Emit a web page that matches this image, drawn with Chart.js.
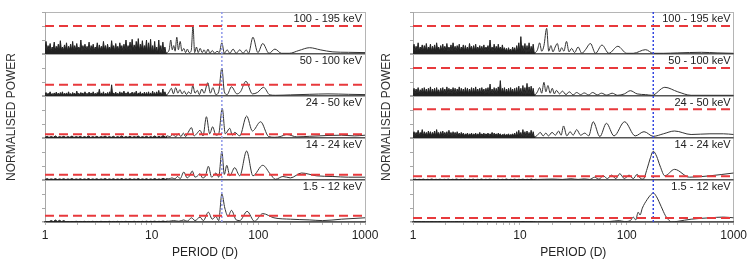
<!DOCTYPE html>
<html>
<head>
<meta charset="utf-8">
<script src="https://cdn.jsdelivr.net/npm/chart.js@4"></script>
<style>
    body { margin: 0; background: #fff; }
    #wrap { position: relative; width: 750px; height: 264px; }
    #leftBox { position: absolute; left: 0; top: 0; width: 392px; height: 264px; }
    #rightBox { position: absolute; left: 375px; top: 0; width: 375px; height: 264px; }
</style>
</head>
<body>
<div id="wrap">
    <div id="leftBox"><canvas id="leftChart"></canvas></div>
    <div id="rightBox"><canvas id="rightChart"></canvas></div>
</div>
<script>
// energy bands, top panel first
const bandLabels = ['100 - 195 keV', '50 - 100 keV', '24 - 50 keV', '14 - 24 keV', '1.5 - 12 keV'];

// period grids (days) for the dense short-period part
const densePeriods = [1.00, 1.022, 1.045, 1.068, 1.092, 1.117, 1.142, 1.167, 1.193, 1.22,
    1.247, 1.275, 1.304, 1.333, 1.363, 1.393, 1.424, 1.456, 1.489, 1.522,
    1.556, 1.591, 1.627, 1.663, 1.70, 1.738, 1.777, 1.817, 1.858, 1.899,
    1.942, 1.985, 2.03, 2.075, 2.122, 2.169, 2.218, 2.267, 2.318, 2.37,
    2.423, 2.477, 2.533, 2.589, 2.647, 2.707, 2.767, 2.829, 2.893, 2.957,
    3.024, 3.091, 3.16, 3.231, 3.304, 3.378, 3.453, 3.531, 3.61, 3.69,
    3.773, 3.857, 3.944, 4.032, 4.122, 4.214, 4.309, 4.405, 4.504, 4.604,
    4.707, 4.813, 4.92, 5.031, 5.143, 5.258, 5.376, 5.496, 5.619, 5.745,
    5.873, 6.005, 6.139, 6.276, 6.417, 6.56, 6.707, 6.857, 7.01, 7.167,
    7.327, 7.491, 7.659, 7.83, 8.005, 8.184, 8.367, 8.554, 8.746, 8.941,
    9.141, 9.346, 9.555, 9.768, 9.987, 10.21, 10.44, 10.67, 10.91, 11.15,
    11.40, 11.66, 11.92, 12.19, 12.46, 12.74, 13.02, 13.31, 13.61, 14.0];
const quietPeriods = [1.00, 1.05, 1.09, 1.14, 1.20, 1.25, 1.31, 1.37, 1.43, 1.50,
    1.57, 1.64, 1.71, 1.79, 1.87, 1.96, 2.05, 2.14, 2.24, 2.34,
    2.45, 2.56, 2.68, 2.80, 2.93, 3.06, 3.20, 3.35, 3.50, 3.66,
    3.83, 4.00, 4.19, 4.38, 4.58, 4.79, 5.01, 5.24, 5.48, 5.73,
    5.99, 6.26, 6.55, 6.85, 7.16, 7.49, 7.83, 8.19, 8.56, 8.95,
    9.36, 9.79, 10.2, 10.7, 11.2, 11.7, 12.2, 12.8, 13.4, 14.0];

// ---- left plot ----
const leftNoise100 = [0.35, 0.9, 0.25, 0.6, 0.3, 0.75, 0.2, 0.5, 0.3, 0.85,
    0.25, 0.55, 0.3, 0.7, 0.2, 0.95, 0.3, 0.5, 0.25, 0.65,
    0.3, 0.8, 0.2, 0.55, 0.3, 0.7, 0.25, 0.9, 0.2, 0.6,
    0.3, 0.75, 0.25, 0.5, 0.3, 1.0, 0.2, 0.6, 0.3, 0.7,
    0.25, 0.55, 0.3, 0.85, 0.2, 0.6, 0.3, 0.7, 0.25, 0.5,
    0.3, 0.8, 0.2, 0.65, 0.3, 0.55, 0.25, 0.9, 0.3, 0.6,
    0.2, 0.7, 0.3, 0.5, 0.25, 0.95, 0.3, 0.6, 0.2, 0.75,
    0.3, 0.55, 0.25, 0.8, 0.3, 0.6, 0.2, 0.7, 0.3, 1.0,
    0.25, 0.6, 0.3, 0.85, 0.2, 1.05, 0.3, 0.65, 0.25, 0.9,
    0.3, 1.1, 0.2, 0.7, 0.3, 0.95, 0.25, 0.6, 0.3, 1.0,
    0.1, 0.8, 0.15, 1.05, 0.08, 0.6, 0.1, 0.9, 0.08, 0.5,
    0.05, 1.0, 0.08, 0.6, 0.05, 0.85, 0.1, 0.5, 0.05, 0.1];
const leftTail100 = [[14.6, 0.3], [15.1, 1.0], [15.6, 0.3], [16.1, 0.6], [16.6, 0.2], [17.2, 1.2], [17.8, 0.3], [18.5, 0.9],
    [19.2, 0.2], [20.0, 0.4], [20.8, 0.1], [21.6, 0.35], [22.5, 0.1], [23.5, 0.25], [24.4, 2.0], [25.3, 0.1],
    [26.3, 0.5], [27.3, 0.1], [28.5, 0.4], [29.8, 0.1], [31.0, 0.3], [32.3, 0.05], [33.7, 0.35], [35.2, 0.05],
    [37.0, 0.25], [39.0, 0.05], [41.0, 0.2], [43.0, 0.1], [45.5, 0.8], [48.0, 0.05], [51.0, 0.3], [54.0, 0.05],
    [58.0, 0.35], [62.0, 0.05], [67.0, 0.3], [72.0, 0.05], [77.0, 0.3], [81.0, 0.05], [89.0, 1.2], [99.0, 0.1],
    [110.0, 0.75], [126.0, 0.05], [143.0, 0.35], [165.0, 0.05], [195.0, 0.05], [240.0, 0.25], [303.0, 0.45],
    [380.0, 0.3], [500.0, 0.15], [700.0, 0.12], [1000.0, 0.1]];

const leftNoise50 = [0.08, 0.25, 0.05, 0.2, 0.1, 0.3, 0.06, 0.18, 0.08, 0.22,
    0.05, 0.28, 0.1, 0.2, 0.06, 0.25, 0.08, 0.3, 0.05, 0.2,
    0.1, 0.22, 0.06, 0.3, 0.08, 0.18, 0.05, 0.25, 0.1, 0.2,
    0.06, 0.35, 0.08, 0.2, 0.05, 0.25, 0.1, 0.22, 0.06, 0.3,
    0.08, 0.2, 0.05, 0.28, 0.1, 0.22, 0.06, 0.3, 0.08, 0.2,
    0.05, 0.25, 0.1, 0.48, 0.06, 0.22, 0.08, 0.3, 0.05, 0.2,
    0.1, 0.25, 0.06, 0.3, 0.08, 0.8, 0.05, 0.22, 0.1, 0.28,
    0.06, 0.2, 0.08, 0.3, 0.05, 0.25, 0.1, 0.35, 0.06, 0.22,
    0.08, 0.3, 0.05, 0.2, 0.1, 0.28, 0.06, 0.25, 0.08, 0.35,
    0.05, 0.22, 0.1, 0.3, 0.06, 0.2, 0.08, 0.28, 0.05, 0.25,
    0.05, 0.3, 0.04, 0.22, 0.05, 0.35, 0.04, 0.25, 0.05, 0.3,
    0.04, 0.4, 0.05, 0.25, 0.04, 0.5, 0.04, 0.3, 0.05, 0.1];
const leftTail50 = [[14.6, 0.3], [15.3, 0.55], [16.0, 0.15], [16.8, 0.6], [17.6, 0.2], [18.4, 0.45], [19.3, 0.15],
    [20.2, 0.35], [21.2, 0.1], [22.2, 0.3], [23.3, 0.15], [24.3, 0.75], [25.5, 0.2], [26.8, 0.4], [28.0, 0.1],
    [29.5, 0.5], [31.0, 0.2], [33.6, 0.95], [35.5, 0.2], [37.5, 0.6], [40.0, 0.1], [42.5, 0.3], [45.5, 2.0],
    [48.0, 0.3], [51.0, 0.1], [56.0, 0.66], [63.0, 0.15], [68.0, 0.3], [76.5, 1.05], [88.0, 0.15], [98.0, 0.25],
    [112.0, 0.62], [128.0, 0.08], [145.0, 0.05], [200.0, 0.08], [300.0, 0.12], [450.0, 0.15], [700.0, 0.12],
    [1000.0, 0.1]];

const leftNoise24 = [0.05, 0.12, 0.04, 0.1, 0.05, 0.15, 0.04, 0.1, 0.06, 0.12,
    0.04, 0.1, 0.05, 0.14, 0.04, 0.1, 0.05, 0.12, 0.04, 0.1,
    0.05, 0.15, 0.04, 0.1, 0.05, 0.12, 0.04, 0.1, 0.06, 0.14,
    0.04, 0.1, 0.05, 0.12, 0.04, 0.1, 0.05, 0.15, 0.04, 0.1,
    0.05, 0.12, 0.04, 0.1, 0.06, 0.14, 0.04, 0.1, 0.05, 0.12,
    0.04, 0.1, 0.05, 0.15, 0.04, 0.12, 0.05, 0.18, 0.06, 0.15];
const leftTail24 = [[14.8, 0.1], [15.8, 0.25], [16.8, 0.08], [17.8, 0.3], [18.8, 0.1], [19.8, 0.35], [20.8, 0.1],
    [22.0, 0.4], [23.6, 0.74], [25.0, 0.15], [26.4, 0.3], [28.4, 0.55], [30.3, 0.15], [32.6, 1.52], [35.0, 0.3],
    [37.3, 0.8], [40.0, 0.2], [42.5, 0.3], [45.9, 2.12], [49.0, 0.3], [54.0, 0.69], [57.0, 0.2], [60.0, 0.4],
    [67.0, 0.15], [77.7, 1.57], [88.0, 0.5], [105.0, 1.16], [125.0, 0.1], [143.0, 0.05], [160.0, 0.1],
    [185.0, 0.25], [230.0, 0.08], [300.0, 0.12], [450.0, 0.18], [600.0, 0.2], [800.0, 0.15], [1000.0, 0.2]];

const leftNoise14 = [0.04, 0.1, 0.03, 0.08, 0.04, 0.1, 0.03, 0.08, 0.04, 0.09,
    0.03, 0.08, 0.04, 0.1, 0.03, 0.08, 0.04, 0.09, 0.03, 0.08,
    0.04, 0.1, 0.03, 0.08, 0.04, 0.09, 0.03, 0.08, 0.04, 0.1,
    0.03, 0.08, 0.04, 0.09, 0.03, 0.08, 0.04, 0.1, 0.03, 0.08,
    0.04, 0.09, 0.03, 0.08, 0.04, 0.1, 0.03, 0.08, 0.04, 0.09,
    0.03, 0.08, 0.04, 0.1, 0.03, 0.08, 0.04, 0.12, 0.05, 0.1];
const leftTail14 = [[14.5, 0.08], [15.5, 0.15], [16.5, 0.08], [17.5, 0.25], [18.5, 0.1], [20.0, 0.57], [21.5, 0.15],
    [22.7, 0.3], [24.0, 0.64], [25.5, 0.2], [27.0, 0.3], [28.4, 0.45], [30.0, 0.15], [32.0, 0.3], [34.0, 0.98],
    [36.5, 0.2], [40.0, 0.5], [42.5, 0.2], [45.5, 2.05], [48.0, 0.4], [50.6, 1.05], [54.0, 0.3], [60.0, 0.88],
    [67.0, 0.3], [77.7, 2.07], [89.0, 0.3], [110.0, 1.05], [130.0, 0.4], [145.0, 0.05], [170.0, 0.25],
    [200.0, 0.15], [254.0, 0.5], [350.0, 0.3], [500.0, 0.25], [700.0, 0.2], [1000.0, 0.2]];

const leftNoise1 = [0.02, 0.03, 0.02, 0.1, 0.03, 0.14, 0.04, 0.12, 0.03, 0.1,
    0.02, 0.04, 0.02, 0.04, 0.02, 0.05, 0.02, 0.04, 0.02, 0.05,
    0.02, 0.04, 0.02, 0.05, 0.02, 0.04, 0.02, 0.05, 0.02, 0.04,
    0.02, 0.05, 0.02, 0.04, 0.02, 0.05, 0.02, 0.04, 0.02, 0.05,
    0.02, 0.04, 0.02, 0.05, 0.02, 0.04, 0.02, 0.05, 0.02, 0.06,
    0.02, 0.05, 0.03, 0.06, 0.02, 0.05, 0.03, 0.07, 0.03, 0.06];
const leftTail1 = [[14.5, 0.05], [16.0, 0.1], [18.0, 0.05], [20.0, 0.15], [21.5, 0.05], [23.6, 0.3], [25.5, 0.1],
    [28.4, 0.35], [30.5, 0.1], [34.0, 0.7], [37.0, 0.2], [40.0, 0.4], [42.5, 0.1], [45.5, 2.0], [48.5, 1.0],
    [52.0, 0.4], [56.0, 0.83], [62.0, 0.15], [67.0, 0.1], [78.5, 0.76], [92.0, 0.05], [110.0, 0.6], [140.0, 0.3],
    [200.0, 0.2], [300.0, 0.15], [400.0, 0.1], [600.0, 0.2], [1000.0, 0.3]];

// ---- right plot ----
const rightNoise100 = [0.3, 0.7, 0.2, 0.55, 0.25, 0.8, 0.2, 0.5, 0.3, 0.65,
    0.2, 0.6, 0.25, 0.75, 0.2, 0.5, 0.3, 0.7, 0.2, 0.55,
    0.25, 0.65, 0.2, 0.8, 0.3, 0.5, 0.2, 0.6, 0.25, 0.7,
    0.2, 0.55, 0.3, 0.75, 0.2, 0.5, 0.25, 0.65, 0.2, 0.8,
    0.3, 0.55, 0.2, 0.6, 0.25, 0.7, 0.2, 0.5, 0.3, 0.65,
    0.2, 0.6, 0.25, 0.5, 0.2, 0.75, 0.3, 0.55, 0.2, 0.6,
    0.25, 0.7, 0.2, 0.5, 0.3, 0.6, 0.2, 0.55, 0.25, 0.65,
    0.2, 0.5, 0.3, 0.6, 0.2, 1.0, 0.25, 0.5, 0.2, 0.7,
    0.25, 0.55, 0.2, 0.7, 0.3, 0.5, 0.2, 0.65, 0.25, 0.45,
    0.2, 0.4, 0.15, 0.45, 0.2, 0.35, 0.15, 0.5, 0.2, 0.45,
    0.1, 0.6, 0.15, 0.8, 0.1, 1.24, 0.15, 0.6, 0.1, 0.75,
    0.08, 0.6, 0.1, 0.8, 0.08, 0.55, 0.1, 0.7, 0.08, 0.1];
const rightTail100 = [[14.6, 0.3], [15.3, 0.8], [16.0, 0.2], [16.8, 0.6], [17.8, 1.83], [18.6, 0.2], [19.5, 0.6],
    [20.4, 0.15], [21.4, 0.5], [22.4, 0.75], [23.5, 0.15], [24.6, 0.45], [25.8, 0.2], [27.3, 0.9], [28.8, 0.15],
    [30.5, 0.4], [32.5, 0.1], [35.0, 0.5], [38.0, 0.05], [41.0, 0.3], [45.7, 0.75], [51.0, 0.05], [58.6, 0.64],
    [68.0, 0.05], [82.5, 0.55], [100.0, 0.05], [115.0, 0.05], [150.0, 0.31], [177.0, 0.05], [220.0, 0.05],
    [300.0, 0.08], [500.0, 0.12], [700.0, 0.08], [1000.0, 0.05]];

const rightNoise50 = [0.2, 0.55, 0.15, 0.5, 0.2, 0.6, 0.15, 0.45, 0.2, 0.55,
    0.15, 0.6, 0.2, 0.5, 0.15, 0.55, 0.2, 0.65, 0.15, 0.5,
    0.2, 0.55, 0.15, 0.6, 0.2, 0.45, 0.15, 0.55, 0.2, 0.6,
    0.15, 0.5, 0.2, 0.65, 0.15, 0.55, 0.2, 0.5, 0.15, 0.6,
    0.2, 0.55, 0.15, 0.5, 0.2, 0.65, 0.15, 0.55, 0.2, 0.5,
    0.15, 0.6, 0.2, 0.55, 0.15, 0.5, 0.2, 0.6, 0.15, 0.55,
    0.2, 0.65, 0.15, 0.5, 0.2, 0.55, 0.15, 0.6, 0.2, 0.5,
    0.15, 0.55, 0.2, 0.6, 0.15, 0.85, 0.2, 0.5, 0.15, 0.6,
    0.2, 0.55, 0.15, 0.65, 0.2, 1.1, 0.15, 0.55, 0.2, 0.6,
    0.15, 0.5, 0.2, 0.55, 0.15, 0.6, 0.2, 0.5, 0.15, 0.55,
    0.1, 0.6, 0.08, 0.7, 0.1, 0.55, 0.08, 0.75, 0.1, 0.6,
    0.08, 0.9, 0.1, 0.65, 0.08, 0.7, 0.1, 0.55, 0.08, 0.1];
const rightTail50 = [[14.6, 0.3], [15.3, 0.6], [16.0, 0.2], [16.8, 0.98], [17.5, 0.3], [18.3, 0.75], [19.2, 0.2],
    [20.1, 0.55], [21.0, 0.15], [22.0, 0.4], [23.5, 0.15], [25.0, 0.35], [27.0, 0.1], [29.0, 0.3], [31.5, 0.08],
    [34.0, 0.25], [37.0, 0.1], [40.0, 0.22], [44.0, 0.08], [48.0, 0.25], [53.0, 0.08], [58.0, 0.2], [65.0, 0.06],
    [73.0, 0.2], [82.0, 0.05], [95.0, 0.15], [108.0, 0.38], [125.0, 0.15], [150.0, 0.1], [172.0, 0.05],
    [227.0, 0.62], [300.0, 0.3], [400.0, 0.05], [600.0, 0.05], [1000.0, 0.05]];

const rightNoise24 = [0.2, 0.45, 0.15, 0.4, 0.2, 0.55, 0.15, 0.4, 0.2, 0.6,
    0.15, 0.45, 0.2, 0.4, 0.15, 0.5, 0.2, 0.45, 0.15, 0.4,
    0.2, 0.5, 0.15, 0.6, 0.2, 0.4, 0.15, 0.45, 0.2, 0.5,
    0.15, 0.4, 0.2, 0.45, 0.15, 0.55, 0.2, 0.4, 0.15, 0.45,
    0.2, 0.4, 0.15, 0.45, 0.2, 0.35, 0.15, 0.4, 0.2, 0.35,
    0.15, 0.3, 0.2, 0.35, 0.15, 0.3, 0.2, 0.35, 0.15, 0.3,
    0.2, 0.35, 0.15, 0.3, 0.2, 0.4, 0.15, 0.3, 0.2, 0.35,
    0.15, 0.3, 0.2, 0.35, 0.15, 0.3, 0.2, 0.4, 0.15, 0.35,
    0.2, 0.3, 0.15, 0.35, 0.2, 0.3, 0.15, 0.25, 0.2, 0.3,
    0.15, 0.25, 0.2, 0.3, 0.15, 0.25, 0.2, 0.3, 0.15, 0.35,
    0.1, 0.45, 0.08, 0.55, 0.1, 0.4, 0.08, 0.6, 0.1, 0.45,
    0.08, 0.5, 0.1, 0.4, 0.08, 0.55, 0.1, 0.45, 0.08, 0.1];
const rightTail24 = [[14.6, 0.2], [15.5, 0.4], [16.5, 0.15], [17.5, 0.35], [18.5, 0.15], [20.0, 0.4], [21.5, 0.2],
    [23.0, 0.5], [24.3, 0.2], [25.6, 0.86], [27.5, 0.15], [29.5, 0.45], [31.5, 0.2], [34.0, 0.6], [37.0, 0.2],
    [40.5, 0.35], [44.0, 0.15], [48.5, 1.16], [56.0, 0.1], [64.5, 1.05], [76.0, 0.15], [95.5, 1.16], [120.0, 0.15],
    [145.0, 0.45], [177.0, 0.12], [220.0, 0.3], [280.0, 0.5], [400.0, 0.25], [600.0, 0.3], [800.0, 0.3],
    [1000.0, 0.25]];

const rightNoise14 = [0.03, 0.06, 0.02, 0.05, 0.03, 0.06, 0.02, 0.05, 0.03, 0.07,
    0.02, 0.05, 0.03, 0.06, 0.02, 0.05, 0.03, 0.06, 0.02, 0.05,
    0.03, 0.07, 0.02, 0.05, 0.03, 0.06, 0.02, 0.05, 0.03, 0.06,
    0.02, 0.05, 0.03, 0.07, 0.02, 0.05, 0.03, 0.06, 0.02, 0.05,
    0.03, 0.06, 0.02, 0.05, 0.03, 0.07, 0.02, 0.05, 0.03, 0.06,
    0.02, 0.05, 0.03, 0.06, 0.02, 0.05, 0.03, 0.07, 0.02, 0.05];
const rightTail14 = [[14.6, 0.04], [20.0, 0.07], [25.0, 0.04], [30.0, 0.09], [35.0, 0.04], [40.0, 0.08], [45.0, 0.04],
    [50.0, 0.2], [55.0, 0.05], [60.0, 0.3], [66.0, 0.1], [72.0, 0.35], [79.0, 0.1], [86.0, 0.45], [95.0, 0.1],
    [105.0, 0.35], [115.0, 0.1], [125.0, 0.4], [133.0, 0.15], [142.0, 0.05], [155.0, 0.8], [165.0, 1.5],
    [177.0, 2.05], [190.0, 1.7], [205.0, 1.0], [227.0, 0.3], [280.0, 0.76], [386.0, 0.2], [600.0, 0.3],
    [1000.0, 0.5]];

const rightNoise1 = [0.01, 0.03, 0.01, 0.02, 0.01, 0.03, 0.01, 0.02, 0.01, 0.03,
    0.01, 0.02, 0.01, 0.03, 0.01, 0.02, 0.01, 0.03, 0.01, 0.02,
    0.01, 0.03, 0.01, 0.02, 0.01, 0.03, 0.01, 0.02, 0.01, 0.03,
    0.01, 0.02, 0.01, 0.03, 0.01, 0.02, 0.01, 0.03, 0.01, 0.02,
    0.01, 0.03, 0.01, 0.02, 0.01, 0.03, 0.01, 0.02, 0.01, 0.03,
    0.01, 0.02, 0.01, 0.03, 0.01, 0.02, 0.01, 0.03, 0.01, 0.02];
const rightTail1 = [[14.6, 0.02], [30.0, 0.03], [50.0, 0.02], [70.0, 0.04], [85.0, 0.1], [95.0, 0.03], [108.0, 0.1],
    [115.0, 0.35], [121.0, 0.15], [128.0, 0.7], [133.0, 0.5], [140.0, 1.0], [155.0, 1.6], [168.0, 1.95],
    [177.0, 2.07], [190.0, 1.8], [210.0, 1.1], [230.0, 0.45], [250.0, 0.1], [262.0, 0.0], [300.0, 0.05],
    [400.0, 0.2], [600.0, 0.3], [800.0, 0.35], [1000.0, 0.3]];

// significance levels (red dashed) per band, top to bottom
const leftLevels = [2.0, 0.81, 0.26, 0.38, 0.45];
const rightLevels = [2.0, 2.0, 2.05, 0.26, 0.29];

// period marked with the blue dotted line
const leftMarker = 45.5;
const rightMarker = 177;

Chart.defaults.font.family = '"Liberation Sans", Arial, sans-serif';
Chart.defaults.color = '#222';

function makeSeries(grid, noise, tail) {
    const last = noise.length - 1;
    return {
        noise: noise.map((v, i) => ({ x: grid[i], y: v })),
        tail: [{ x: grid[last], y: noise[last] }].concat(tail.map(p => ({ x: p[0], y: p[1] })))
    };
}

function isDecade(v) {
    const l = Math.log10(v);
    return Math.abs(l - Math.round(l)) < 1e-6;
}

const bandLabelPlugin = {
    id: 'bandLabels',
    afterDatasetsDraw(chart) {
        const ctx = chart.ctx;
        ctx.save();
        ctx.font = '11px "Liberation Sans", Arial, sans-serif';
        ctx.fillStyle = '#222';
        ctx.textAlign = 'right';
        ctx.textBaseline = 'middle';
        bandLabels.forEach((lab, i) => {
            const s = chart.scales['p' + i];
            ctx.fillText(lab, chart.chartArea.right - 3, s.top + 7);
        });
        ctx.restore();
    }
};

function buildScales(axisWidth) {
    const scales = {
        x: {
            type: 'logarithmic',
            min: 1,
            max: 1000,
            border: { color: '#555', width: 1.5 },
            grid: {
                drawOnChartArea: true,
                color: c => (c.tick && c.tick.value === 1000) ? '#b5b5b5' : 'transparent',
                tickColor: '#b5b5b5',
                tickLength: 3
            },
            ticks: {
                autoSkip: false,
                maxRotation: 0,
                color: '#222',
                font: { size: 12 },
                padding: 3,
                callback: v => isDecade(v) ? String(v) : ''
            },
            title: { display: true, text: 'PERIOD (D)', color: '#222', font: { size: 12 } },
            afterFit: s => { s.height = 42; }
        },
        marker: { type: 'linear', position: 'right', display: false, min: 0, max: 1 }
    };
    bandLabels.forEach((lab, i) => {
        scales['p' + i] = {
            type: 'linear',
            position: 'left',
            stack: 'bands',
            stackWeight: 1,
            weight: 5 - i,
            min: 0,
            max: 3,
            border: { color: '#a8a8a8' },
            grid: {
                drawOnChartArea: true,
                color: c => c.tick.value === 0 ? '#555' : ((i === 0 && c.tick.value === 3) ? '#b5b5b5' : 'transparent'),
                lineWidth: c => c.tick.value === 0 ? 1.5 : 1,
                tickColor: '#a8a8a8',
                tickLength: 3
            },
            ticks: { display: false, stepSize: 1 },
            title: {
                display: i === 2,
                text: 'NORMALISED POWER',
                color: '#333',
                font: { size: 12 },
                padding: { top: 4, bottom: 0 }
            },
            afterFit: s => { s.width = axisWidth; }
        };
    });
    return scales;
}

function buildDatasets(series, levels, marker, markerColor) {
    const sets = [];
    levels.forEach((lvl, i) => {
        sets.push({
            data: [{ x: 1, y: lvl }, { x: 1000, y: lvl }],
            yAxisID: 'p' + i,
            borderColor: '#e8393c',
            borderWidth: 2,
            borderDash: [9, 5],
            pointRadius: 0,
            order: 0
        });
    });
    sets.push({
        data: [{ x: marker, y: 0 }, { x: marker, y: 1 }],
        yAxisID: 'marker',
        borderColor: markerColor,
        borderWidth: 1.5,
        borderDash: [2, 2],
        pointRadius: 0,
        order: 1
    });
    series.forEach((s, i) => {
        // dense short-period part, drawn as a filled jagged band
        sets.push({
            data: s.noise,
            yAxisID: 'p' + i,
            borderColor: '#222',
            backgroundColor: '#222',
            borderWidth: 1,
            pointRadius: 0,
            fill: 'origin',
            order: 2
        });
        sets.push({
            data: s.tail,
            yAxisID: 'p' + i,
            borderColor: '#333',
            borderWidth: 1,
            pointRadius: 0,
            cubicInterpolationMode: 'monotone',
            order: 2
        });
    });
    return sets;
}

function createChart(canvasId, series, levels, marker, markerColor, axisWidth, rightPad) {
    const ctx = document.getElementById(canvasId).getContext('2d');
    return new Chart(ctx, {
        type: 'line',
        data: { datasets: buildDatasets(series, levels, marker, markerColor) },
        options: {
            animation: false,
            responsive: true,
            maintainAspectRatio: false,
            devicePixelRatio: 1,
            layout: { padding: { left: 0, right: rightPad, top: 12, bottom: 0 } },
            plugins: { legend: { display: false }, tooltip: { enabled: false } },
            scales: buildScales(axisWidth)
        },
        plugins: [bandLabelPlugin]
    });
}

createChart('leftChart', [
    makeSeries(densePeriods, leftNoise100, leftTail100),
    makeSeries(densePeriods, leftNoise50, leftTail50),
    makeSeries(quietPeriods, leftNoise24, leftTail24),
    makeSeries(quietPeriods, leftNoise14, leftTail14),
    makeSeries(quietPeriods, leftNoise1, leftTail1)
], leftLevels, leftMarker, '#8f98ea', 45, 27);

createChart('rightChart', [
    makeSeries(densePeriods, rightNoise100, rightTail100),
    makeSeries(densePeriods, rightNoise50, rightTail50),
    makeSeries(densePeriods, rightNoise24, rightTail24),
    makeSeries(quietPeriods, rightNoise14, rightTail14),
    makeSeries(quietPeriods, rightNoise1, rightTail1)
], rightLevels, rightMarker, '#3346e0', 38, 14);
</script>
</body>
</html>
